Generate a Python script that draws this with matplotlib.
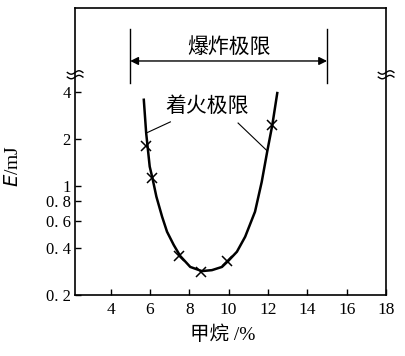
import numpy as np
import matplotlib
matplotlib.use("Agg")
import matplotlib.pyplot as plt
from matplotlib.ticker import FixedLocator, FixedFormatter, NullLocator

plt.rcParams['font.family'] = ['Liberation Serif', 'Noto Sans CJK SC']

# ignition-energy curve (methane %, E in mJ)
curve_x = [5.69, 5.81, 5.99, 6.13, 6.33, 6.62, 6.87, 7.21, 7.54, 8.05, 8.64,
           9.15, 9.66, 9.99, 10.42, 10.84, 11.34, 11.68, 11.96, 12.22, 12.47]
curve_e = [3.56, 2.18, 1.33, 1.12, 0.853, 0.635, 0.509, 0.419, 0.356, 0.303,
           0.285, 0.289, 0.303, 0.332, 0.379, 0.473, 0.684, 1.06, 1.66,
           2.46, 3.93]

# measured points (x markers)
meas_x = [5.82, 6.13, 7.5, 8.6, 9.9, 12.22]
meas_e = [1.79, 1.12, 0.356, 0.283, 0.33, 2.46]

# explosion limits
explo_lo, explo_hi = 5.0, 15.0

xticks = [4, 6, 8, 10, 12, 14, 16, 18]
yticks = [0.2, 0.4, 0.6, 0.8, 1, 2, 4]
ytick_labels = ['0. 2', '0. 4', '0. 6', '0. 8', '1', '2', '4']

fig = plt.figure(figsize=(4.06, 3.56), dpi=100)
ax = fig.add_axes([0.185, 0.171, 0.766, 0.807])

ax.plot(curve_x, curve_e, color='black', lw=1.8)
ax.plot(meas_x, meas_e, linestyle='none', marker='x', color='black',
        markersize=6.5, markeredgewidth=1.1)

ax.set_yscale('log')
ax.set_xlim(2.2, 18)
ax.set_ylim(0.2, 13.8)

ax.xaxis.set_major_locator(FixedLocator(xticks))
ax.yaxis.set_major_locator(FixedLocator(yticks))
ax.yaxis.set_major_formatter(FixedFormatter(ytick_labels))
ax.yaxis.set_minor_locator(NullLocator())
ax.tick_params(direction='in', length=4, width=1, labelsize=12.5, pad=3)
ax.tick_params(axis='x', pad=5)
ax.tick_params(axis='y', labelsize=12)
for s in ax.spines.values():
    s.set_linewidth(1.2)

ax.set_xlabel('甲烷 /%', fontsize=14)
ax.xaxis.set_label_coords(0.476, -0.105)
ax.set_ylabel('$\\mathit{E}$/mJ', fontsize=14)
ax.yaxis.set_label_coords(-0.17, 0.45)

# axis break marks on both spines
ty = 0.767
for xa in (0.0, 1.0):
    for dy in (0.008, -0.008):
        tt = np.linspace(-0.025, 0.025, 20)
        ax.plot(xa + tt, ty + dy + 0.006 * np.sin(tt / 0.025 * np.pi),
                transform=ax.transAxes, color='black', lw=1.0, clip_on=False)

# explosion limit bracket (x in data, y in axes fraction)
trans_b = ax.get_xaxis_transform()
for xv in (explo_lo, explo_hi):
    ax.plot([xv, xv], [0.739, 0.927], transform=trans_b, color='black', lw=1.0)
ax.annotate('', xy=(explo_hi, 0.815), xytext=(explo_lo, 0.815),
            xycoords=trans_b, textcoords=trans_b,
            arrowprops=dict(arrowstyle='<|-|>', color='black', lw=1.0,
                            mutation_scale=12, shrinkA=0, shrinkB=0))
ax.text(10.0, 0.861, '爆炸极限', transform=trans_b, ha='center', va='center',
        fontsize=15)

# ignition limit label with leaders
ax.text(8.9, 0.655, '着火极限', transform=trans_b, ha='center', va='center',
        fontsize=15)
ax.plot([7.04, 5.81], [0.603, 0.564], transform=trans_b, color='black', lw=0.8)
ax.plot([10.48, 11.96], [0.599, 0.502], transform=trans_b, color='black', lw=0.8)

fig.savefig('out.png', dpi=100)
